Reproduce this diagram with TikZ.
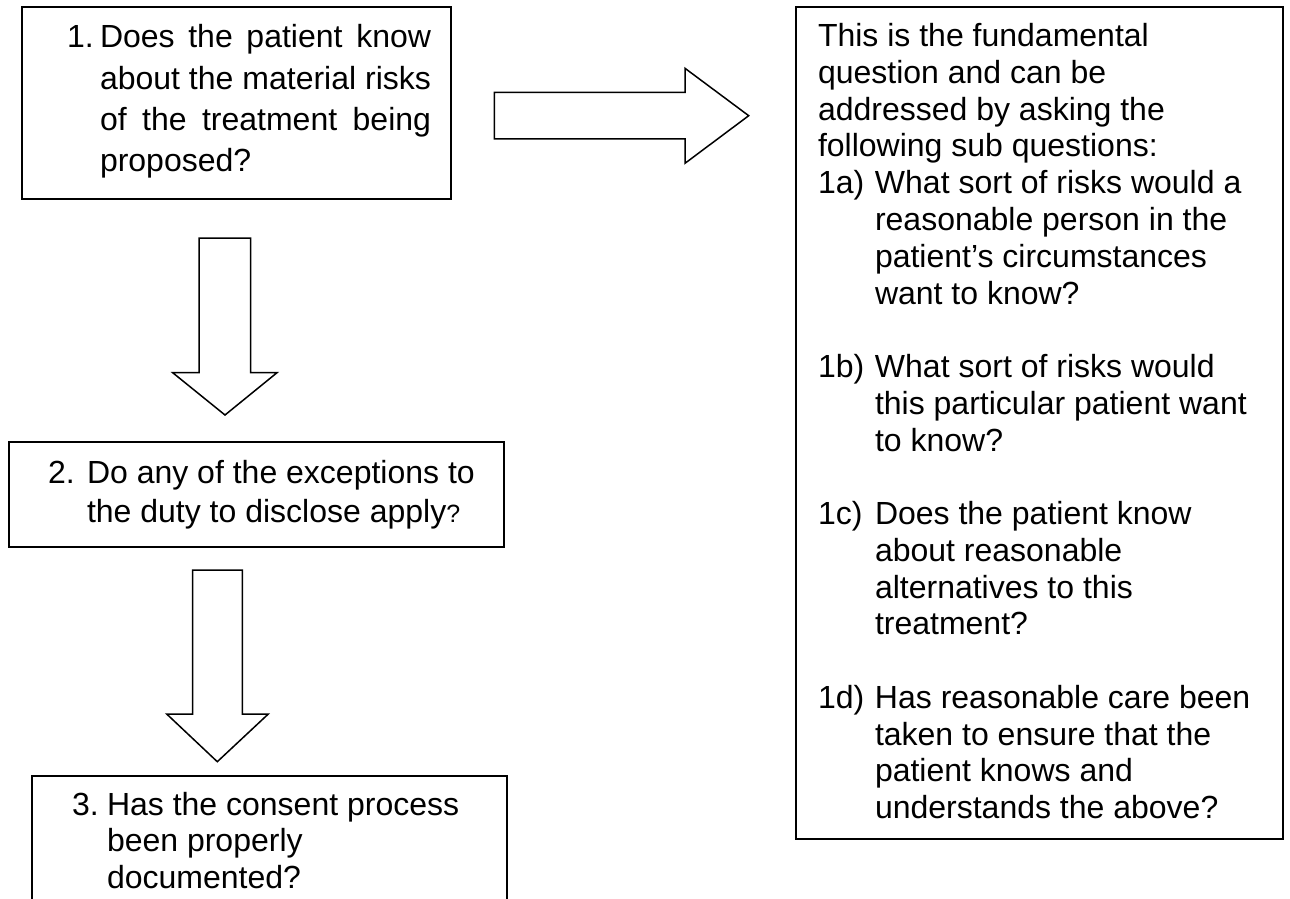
\documentclass[tikz,border=0pt]{standalone}
\usepackage{fontspec}
\setmainfont{Liberation Sans}
\begin{document}
\begin{tikzpicture}[x=0.5pt,y=-0.5pt,
  box/.style={draw,line width=1pt,inner sep=0pt,outer sep=0pt,anchor=north west},
  blockarrow/.style={draw,line width=0.75pt,line join=miter,fill=white},
  txt/.style={inner sep=0pt,outer sep=0pt,anchor=base west,font=\fontsize{16}{19}\selectfont}]
\clip (0,0) rectangle (1290,899);
\fill[white] (0,0) rectangle (1290,899);
% boxes
\node[box,minimum width=214.5pt,minimum height=96pt] (b1) at (22,7) {};
\node[box,minimum width=247.5pt,minimum height=52.5pt] (b2) at (9,442) {};
\node[box,minimum width=237.5pt,minimum height=80pt] (b3) at (32,776) {};
\node[box,minimum width=243.5pt,minimum height=416pt] (bR) at (796,7) {};
% block arrows
\draw[blockarrow] (494.3,92.3) -- (685,92.3) -- (685,68.3) -- (748.7,115.7) -- (685,163.3) -- (685,139) -- (494.3,139) -- cycle;
\draw[blockarrow] (199,238) -- (250.7,238) -- (250.7,372.7) -- (277,372.7) -- (225,415) -- (172.7,372.7) -- (199,372.7) -- cycle;
\draw[blockarrow] (192.7,570) -- (242.3,570) -- (242.3,714) -- (268.3,714) -- (217.3,761.7) -- (166.7,714) -- (192.7,714) -- cycle;
% box 1 text
\node[txt] (n1) at (67,48) {1.};
\node[txt] (t1) at (100,48) {\parbox[t]{165.5pt}{\fontsize{16}{20.65}\selectfont
Does the patient know\linebreak about the material risks\linebreak of the treatment being\linebreak proposed?}};
% box 2 text
\node[txt] (n2) at (48,483) {2.};
\node[txt] (t2) at (87,483) {\parbox[t]{240pt}{\fontsize{16}{19.5}\selectfont
Do any of the exceptions to\newline the duty to disclose apply{\fontsize{12.5}{14}\selectfont ?}}};
% box 3 text
\node[txt] (n3) at (72,815) {3.};
\node[txt] (t3) at (107,815) {\parbox[t]{220pt}{\fontsize{16}{18.25}\selectfont
Has the consent process\newline been properly\newline documented?}};
% right box text
\node[txt] (tR) at (818,46.7) {\parbox[t]{240pt}{\fontsize{16}{18.38}\selectfont
This is the fundamental\newline question and can be\newline addressed by asking the\newline following sub questions:\par
\hangindent=28.5pt\hangafter=1\noindent\makebox[28.5pt][l]{1a)}What sort of risks would a\newline reasonable person in the\newline patient’s circumstances\newline want to know?\par\vskip18.38pt
\hangindent=28.5pt\hangafter=1\noindent\makebox[28.5pt][l]{1b)}What sort of risks would\newline this particular patient want\newline to know?\par\vskip18.38pt
\hangindent=28.5pt\hangafter=1\noindent\makebox[28.5pt][l]{1c)}Does the patient know\newline about reasonable\newline alternatives to this\newline treatment?\par\vskip18.38pt
\hangindent=28.5pt\hangafter=1\noindent\makebox[28.5pt][l]{1d)}Has reasonable care been\newline taken to ensure that the\newline patient knows and\newline understands the above?}};
\end{tikzpicture}
\end{document}
